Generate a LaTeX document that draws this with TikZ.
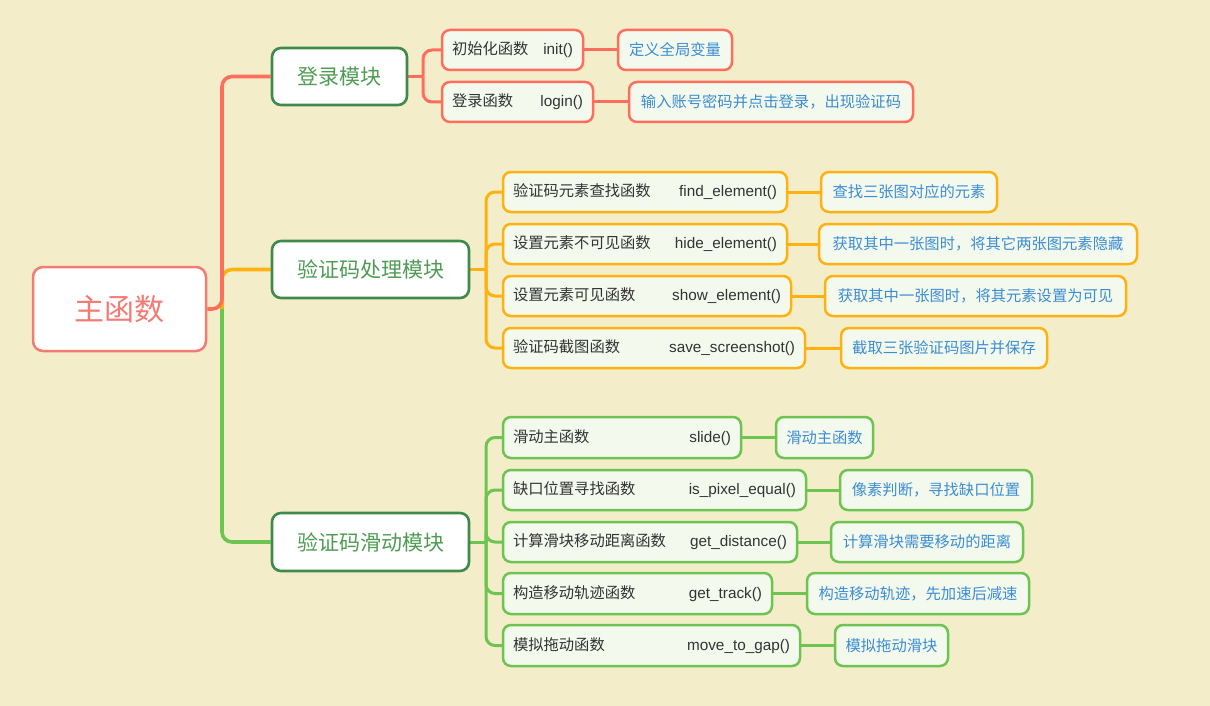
\documentclass[tikz,border=0pt]{standalone}
\usepackage{fontspec}
\usetikzlibrary{backgrounds}
\setmainfont{Liberation Sans}
\newfontfamily\cjk{Noto Sans CJK SC}
\definecolor{bg}{HTML}{F3EDC9}
\definecolor{mainred}{HTML}{F47A72}
\definecolor{redline}{HTML}{FF6E5C}
\definecolor{orangeline}{HTML}{FFB20F}
\definecolor{greenline}{HTML}{6DC451}
\definecolor{modborder}{HTML}{3F8A4A}
\definecolor{modtext}{HTML}{4E9C52}
\definecolor{desctext}{HTML}{3B8DD3}
\definecolor{labeltext}{HTML}{333333}
\definecolor{childfill}{HTML}{F4F9EE}
\newcommand\twopart[3]{\hbox to \dimexpr#1pt-20pt\relax{\cjk #2\hfil\rmfamily #3}}
\tikzset{
  mainbox/.style={draw=mainred, line width=2.5pt, fill=white, rounded corners=10pt,
    text=mainred, font=\cjk\fontsize{30}{34}\selectfont, inner sep=0pt},
  modbox/.style={draw=modborder, line width=2.6pt, fill=white, rounded corners=9pt,
    text=modtext, font=\cjk\fontsize{21}{25}\selectfont, inner sep=0pt},
  childbox/.style={line width=2.5pt, fill=childfill, rounded corners=8pt, inner sep=0pt,
    minimum height=40pt, text=labeltext, font=\fontsize{15.3}{18}\selectfont},
  descbox/.style={childbox, text=desctext, font=\cjk\fontsize{15.3}{18}\selectfont},
  bigline/.style={line width=3.6pt, rounded corners=10pt},
  smallline/.style={line width=3pt, rounded corners=9pt},
}
\begin{document}
\begin{tikzpicture}[x=1pt,y=-1pt]
\useasboundingbox (0,0) rectangle (1210,706);

% main and modules
\node[mainbox, minimum width=173pt, minimum height=84pt] (main) at (119.5,309) {主函数};
\node[modbox, minimum width=135pt, minimum height=57pt] (m1) at (339.5,76.5) {登录模块};
\node[modbox, minimum width=197pt, minimum height=57pt] (m2) at (370.5,269.5) {验证码处理模块};
\node[modbox, minimum width=197pt, minimum height=58pt] (m3) at (370.5,542) {验证码滑动模块};

% login children
\node[childbox, draw=redline, minimum width=141pt] (a1) at (512.5,50) {\twopart{141}{初始化函数}{init()}};
\node[descbox, draw=redline, minimum width=114pt] (a1d) at (675,50) {定义全局变量};
\node[childbox, draw=redline, minimum width=151pt] (a2) at (517.5,102) {\twopart{151}{登录函数}{login()}};
\node[descbox, draw=redline, minimum width=284pt] (a2d) at (771,102) {输入账号密码并点击登录，出现验证码};

% processing children
\node[childbox, draw=orangeline, minimum width=284pt] (b1) at (645,192) {\twopart{284}{验证码元素查找函数}{find\_element()}};
\node[descbox, draw=orangeline, minimum width=176pt] (b1d) at (909,192) {查找三张图对应的元素};
\node[childbox, draw=orangeline, minimum width=284pt] (b2) at (645,244) {\twopart{284}{设置元素不可见函数}{hide\_element()}};
\node[descbox, draw=orangeline, minimum width=318pt] (b2d) at (978,244) {获取其中一张图时，将其它两张图元素隐藏};
\node[childbox, draw=orangeline, minimum width=288pt] (b3) at (647,296) {\twopart{288}{设置元素可见函数}{show\_element()}};
\node[descbox, draw=orangeline, minimum width=301pt] (b3d) at (975.5,296) {获取其中一张图时，将其元素设置为可见};
\node[childbox, draw=orangeline, minimum width=302pt] (b4) at (654,348) {\twopart{302}{验证码截图函数}{save\_screenshot()}};
\node[descbox, draw=orangeline, minimum width=206pt] (b4d) at (944,348) {截取三张验证码图片并保存};

% slide children
\node[childbox, draw=greenline, minimum width=238pt, minimum height=41pt] (c1) at (622,437.5) {\twopart{238}{滑动主函数}{slide()}};
\node[descbox, draw=greenline, minimum width=97pt, minimum height=41pt] (c1d) at (824.5,437.5) {滑动主函数};
\node[childbox, draw=greenline, minimum width=303pt] (c2) at (654.5,490) {\twopart{303}{缺口位置寻找函数}{is\_pixel\_equal()}};
\node[descbox, draw=greenline, minimum width=192pt] (c2d) at (936,490) {像素判断，寻找缺口位置};
\node[childbox, draw=greenline, minimum width=294pt] (c3) at (650,542) {\twopart{294}{计算滑块移动距离函数}{get\_distance()}};
\node[descbox, draw=greenline, minimum width=192pt] (c3d) at (927,542) {计算滑块需要移动的距离};
\node[childbox, draw=greenline, minimum width=269pt, minimum height=41pt] (c4) at (637.5,593.5) {\twopart{269}{构造移动轨迹函数}{get\_track()}};
\node[descbox, draw=greenline, minimum width=222pt, minimum height=41pt] (c4d) at (918,593.5) {构造移动轨迹，先加速后减速};
\node[childbox, draw=greenline, minimum width=297pt, minimum height=41pt] (c5) at (651.5,645.5) {\twopart{297}{模拟拖动函数}{move\_to\_gap()}};
\node[descbox, draw=greenline, minimum width=113pt, minimum height=41pt] (c5d) at (891.5,645.5) {模拟拖动滑块};

% bus coordinates
\coordinate (bus0) at (222,309);
\coordinate (lb) at (423,76.5);
\coordinate (pb) at (486,269.5);
\coordinate (sb) at (486,542);

\begin{scope}[on background layer]
\fill[bg] (0,0) rectangle (1210,706);

% main connectors
\draw[bigline, greenline] (bus0) |- (m3.west);
\draw[bigline, orangeline] (bus0) |- (m2.west);
\draw[bigline, redline] (main.east) -- (bus0) |- (m1.west);

% login connectors
\draw[smallline, redline] (m1.east) -- (lb);
\draw[smallline, redline] (lb) |- (a1.west);
\draw[smallline, redline] (lb) |- (a2.west);
\draw[smallline, redline] (a1.east) -- (a1d.west);
\draw[smallline, redline] (a2.east) -- (a2d.west);

% processing connectors
\draw[smallline, orangeline] (m2.east) -- (pb);
\foreach \n in {b1,b2,b3,b4} {
  \draw[smallline, orangeline] (pb) |- (\n.west);
  \draw[smallline, orangeline] (\n.east) -- (\n d.west);
}

% slide connectors
\draw[smallline, greenline] (m3.east) -- (sb);
\foreach \n in {c1,c2,c3,c4,c5} {
  \draw[smallline, greenline] (sb) |- (\n.west);
  \draw[smallline, greenline] (\n.east) -- (\n d.west);
}
\end{scope}
\end{tikzpicture}
\end{document}
